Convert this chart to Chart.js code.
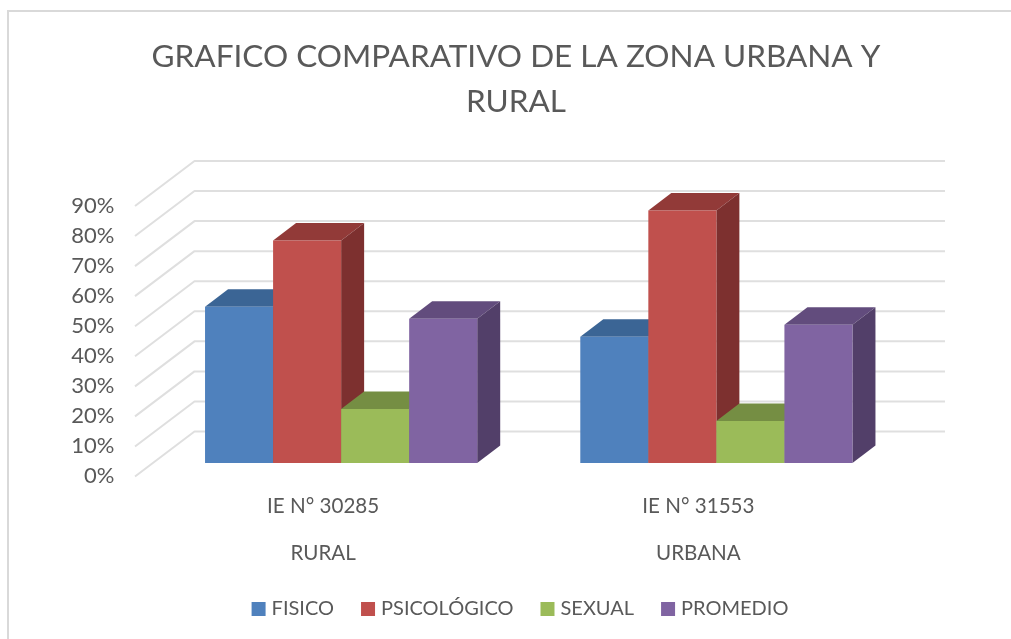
<!DOCTYPE html>
<html><head><meta charset="utf-8">
<script src="https://cdn.jsdelivr.net/npm/chart.js@4"></script>
<style>
html,body{margin:0;padding:0;background:#fff;overflow:hidden;width:1011px;height:639px}
#frame{position:absolute;left:7px;top:10px;width:1100px;height:700px;border:2px solid #d9d9d9;box-sizing:border-box}
#c{position:absolute;left:9px;top:12px}
</style></head><body>
<div id="frame"></div>
<canvas id="c" width="1014" height="640"></canvas>
<script>
const titleLines = ['GRAFICO COMPARATIVO DE LA ZONA URBANA Y', 'RURAL'];
const categories = [['IE N° 30285', 'RURAL'], ['IE N° 31553', 'URBANA']];
const seriesNames = ['FISICO', 'PSICOLÓGICO', 'SEXUAL', 'PROMEDIO'];
const fisico = [52, 42];
const psicologico = [74, 84];
const sexual = [18, 14];
const promedio = [48, 46];
const yTicks = [0, 10, 20, 30, 40, 50, 60, 70, 80, 90];
const frontColors = ['#4F81BD', '#C0504D', '#9BBB59', '#8064A2'];
const topColors = ['#3B6595', '#923A38', '#758E43', '#624C7D'];
const sideColors = ['#32557E', '#7D302F', '#637A38', '#523F69'];
const FONT = 'Lato';
const TEXT = '#595959';
const DEPTH_X = 23, DEPTH_Y = 17.5;

function poly(ctx, pts, fill) {
  ctx.beginPath();
  pts.forEach((p, i) => i ? ctx.lineTo(p[0], p[1]) : ctx.moveTo(p[0], p[1]));
  ctx.closePath();
  ctx.fillStyle = fill;
  ctx.fill();
}

const box3d = {
  id: 'box3d',
  afterLayout(chart) {
    chart.legend.left += 6;
    chart.legend.right += 6;
  },
  beforeDatasetsDraw(chart) {
    const ctx = chart.ctx, y = chart.scales.y;
    const area = chart.chartArea;
    ctx.save();
    ctx.strokeStyle = '#dfdfdf';
    ctx.lineWidth = 2;
    ctx.lineJoin = 'round';
    const backLeft = area.left + 41, backRight = area.right + 41, frontLeft = area.left - 18.5;
    yTicks.forEach(v => {
      const py = y.getPixelForValue(v);
      ctx.beginPath();
      ctx.moveTo(frontLeft, py + 13.5);
      ctx.lineTo(backLeft, py - 31.5);
      ctx.lineTo(backRight, py - 31.5);
      ctx.stroke();
    });
    chart.data.datasets.forEach((ds, i) => {
      chart.getDatasetMeta(i).data.forEach(bar => {
        const p = bar.getProps(['x', 'y', 'base', 'width']);
        const l = p.x - p.width / 2, r = p.x + p.width / 2;
        poly(ctx, [[l, p.y], [l + DEPTH_X, p.y - DEPTH_Y], [r + DEPTH_X, p.y - DEPTH_Y], [r, p.y]], topColors[i]);
        poly(ctx, [[r, p.y], [r + DEPTH_X, p.y - DEPTH_Y], [r + DEPTH_X, p.base - DEPTH_Y], [r, p.base]], sideColors[i]);
        bar.draw(ctx, area);
      });
    });
    ctx.restore();
    return false;
  }
};

new Chart(document.getElementById('c'), {
  type: 'bar',
  plugins: [box3d],
  data: {
    labels: categories,
    datasets: [fisico, psicologico, sexual, promedio].map((values, i) => ({
      label: seriesNames[i],
      data: values,
      backgroundColor: frontColors[i],
      borderWidth: 0,
      categoryPercentage: 0.7253,
      barPercentage: 1
    }))
  },
  options: {
    responsive: false,
    animation: false,
    layout: { padding: { left: 0, right: 0, top: 0, bottom: 23 } },
    plugins: {
      tooltip: { enabled: false },
      title: {
        display: true,
        text: titleLines,
        color: TEXT,
        font: { family: FONT, size: 31.5, weight: 'normal', lineHeight: '45px' },
        padding: { top: 22.5, bottom: 68 }
      },
      legend: {
        position: 'bottom',
        labels: {
          color: TEXT,
          font: { family: FONT, size: 20 },
          boxWidth: 6,
          boxHeight: 6,
          padding: 31,
          generateLabels(chart) {
            return Chart.defaults.plugins.legend.labels.generateLabels(chart).map((it, i) => ({
              ...it, lineWidth: 8, strokeStyle: frontColors[i], fillStyle: frontColors[i]
            }));
          }
        }
      }
    },
    scales: {
      x: {
        grid: { display: false, drawTicks: false },
        border: { display: false },
        afterFit(s) { s.height = 105; },
        ticks: {
          color: TEXT, autoSkip: false, maxRotation: 0, minRotation: 0,
          padding: 20, labelOffset: -18,
          font: { family: FONT, size: 20.6, lineHeight: '47px' }
        }
      },
      y: {
        min: 0, max: 90,
        grid: { display: false, drawTicks: false },
        border: { display: false },
        afterFit(s) { s.width = 144.5; },
        ticks: {
          stepSize: 10, color: TEXT, padding: 39, labelOffset: 13,
          font: { family: FONT, size: 22 },
          callback: v => v + '%'
        }
      },
      rightGap: {
        position: 'right',
        grid: { display: false, drawTicks: false },
        border: { display: false },
        ticks: { display: false },
        afterFit(s) { s.width = 119; }
      }
    }
  }
});
</script>
</body></html>
